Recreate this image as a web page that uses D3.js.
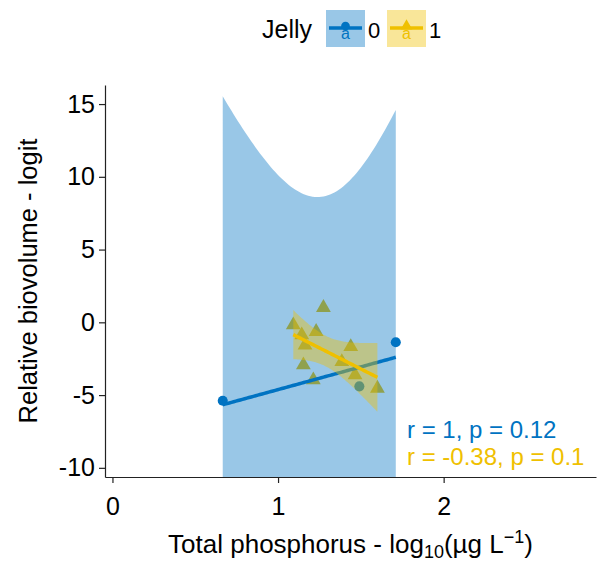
<!DOCTYPE html>
<html lang="en">
<head>
    <meta charset="UTF-8">
    <title>Relative biovolume vs total phosphorus</title>
    <script src="https://d3js.org/d3.v7.min.js"></script>
    <style>
        body { margin: 0; background: white; }
        text { font-family: 'Liberation Sans', Arial, sans-serif; fill: black; }
        .axis path, .axis line { stroke: #222; stroke-width: 1.2; }
        .axis text { font-size: 25px; font-family: 'Liberation Sans', Arial, sans-serif; fill: black; }
    </style>
</head>
<body>
<script>

    const width = 598;
    const height = 569;

    // Jelly = 0
    const tp0 = [0.666, 1.491, 1.711];
    const bv0 = [-5.39, -4.40, -1.37];
    // Jelly = 1
    const tp1 = [1.274, 1.092, 1.230, 1.143, 1.163, 1.439, 1.385, 1.153, 1.465, 1.213, 1.600];
    const bv1 = [1.01, -0.18, -0.64, -0.87, -1.57, -1.68, -2.71, -2.93, -3.62, -3.97, -4.54];

    const groups = ['0', '1'];
    const corrLabels = ['r = 1, p = 0.12', 'r = -0.38, p = 0.1'];
    const xTicks = [0, 1, 2];
    const yTicks = [-10, -5, 0, 5, 10, 15];

    const colors = ['#0073C2', '#EFC000'];

    const margin = {top: 85, right: 2, bottom: 92, left: 105};

    const x = d3.scaleLinear().domain([-0.045, 2.92]).range([margin.left, width - margin.right]);
    const y = d3.scaleLinear().domain([-10.63, 16.31]).range([height - margin.bottom, margin.top]);

    const svg = d3.select("body").append("svg").attr("width", width).attr("height", height);

    svg.append("clipPath").attr("id", "panel")
        .append("rect")
        .attr("x", margin.left).attr("y", margin.top)
        .attr("width", width - margin.left - margin.right)
        .attr("height", height - margin.top - margin.bottom);

    const series = [
        {key: groups[0], xs: tp0, ys: bv0, color: colors[0], shape: d3.symbolCircle},
        {key: groups[1], xs: tp1, ys: bv1, color: colors[1], shape: d3.symbolTriangle}
    ];

    // --- t quantile for the confidence band (numeric) ---
    function lgamma(z) {
        const g = 7, c = [0.99999999999980993, 676.5203681218851, -1259.1392167224028,
            771.32342877765313, -176.61502916214059, 12.507343278686905,
            -0.13857109526572012, 9.9843695780195716e-6, 1.5056327351493116e-7];
        z -= 1;
        let a = c[0];
        const t = z + g + 0.5;
        for (let i = 1; i < 9; i++) a += c[i] / (z + i);
        return 0.5 * Math.log(2 * Math.PI) + (z + 0.5) * Math.log(t) - t + Math.log(a);
    }
    function tcdf(t, nu) {
        const k = Math.exp(lgamma((nu + 1) / 2) - lgamma(nu / 2)) / Math.sqrt(nu * Math.PI);
        const f = u => k * Math.pow(1 + u * u / nu, -(nu + 1) / 2);
        const n = 2000, h = t / n;
        let s = f(0) + f(t);
        for (let i = 1; i < n; i++) s += f(i * h) * (i % 2 ? 4 : 2);
        return 0.5 + s * h / 3;
    }
    function tquant(p, nu) {
        let lo = 0, hi = 100;
        for (let i = 0; i < 60; i++) {
            const mid = (lo + hi) / 2;
            if (tcdf(mid, nu) < p) lo = mid; else hi = mid;
        }
        return (lo + hi) / 2;
    }

    function linfit(xs, ys) {
        const n = xs.length;
        const mx = d3.mean(xs), my = d3.mean(ys);
        let sxx = 0, sxy = 0;
        xs.forEach((v, i) => { sxx += (v - mx) ** 2; sxy += (v - mx) * (ys[i] - my); });
        const b = sxy / sxx, a = my - b * mx;
        let sse = 0;
        xs.forEach((v, i) => { sse += (ys[i] - a - b * v) ** 2; });
        const s = Math.sqrt(sse / (n - 2));
        const tq = tquant(0.975, n - 2);
        const [x0, x1] = d3.extent(xs);
        return d3.range(80).map(i => {
            const xv = x0 + (x1 - x0) * i / 79;
            const fit = a + b * xv;
            const se = s * Math.sqrt(1 / n + (xv - mx) ** 2 / sxx);
            return {x: xv, y: fit, lo: fit - tq * se, hi: fit + tq * se};
        });
    }

    const plot = svg.append("g").attr("clip-path", "url(#panel)");

    // points first, smooth layers on top
    series.forEach(s => {
        plot.selectAll(null)
            .data(s.xs.map((v, i) => [v, s.ys[i]]))
            .enter().append("path")
            .attr("d", d3.symbol().type(s.shape).size(s.shape === d3.symbolCircle ? 80 : 95))
            .attr("transform", d => `translate(${x(d[0])},${y(d[1])})`)
            .style("fill", s.color);
    });

    const area = d3.area().x(d => x(d.x)).y0(d => y(d.lo)).y1(d => y(d.hi));
    const line = d3.line().x(d => x(d.x)).y(d => y(d.y));

    series.forEach(s => {
        const fit = linfit(s.xs, s.ys);
        plot.append("path").attr("d", area(fit))
            .style("fill", s.color).style("opacity", 0.4);
        plot.append("path").attr("d", line(fit))
            .style("fill", "none").style("stroke", s.color).style("stroke-width", 3.5);
    });

    // correlation labels
    svg.selectAll("text.corr")
        .data(corrLabels)
        .enter().append("text").attr("class", "corr")
        .attr("x", 407)
        .attr("y", (d, i) => 438 + i * 27)
        .style("font-size", "24px")
        .style("fill", (d, i) => colors[i])
        .text(d => d);

    // axes
    svg.append("g").attr("class", "axis")
        .attr("transform", `translate(0,${height - margin.bottom})`)
        .call(d3.axisBottom(x).tickValues(xTicks).tickSize(6).tickPadding(14).tickSizeOuter(0).tickFormat(d => String(d)));

    svg.append("g").attr("class", "axis")
        .attr("transform", `translate(${margin.left},0)`)
        .call(d3.axisLeft(y).tickValues(yTicks).tickSize(6).tickPadding(4).tickSizeOuter(0).tickFormat(d => String(d)));

    // axis titles
    const xt = svg.append("text")
        .attr("x", (margin.left + width - margin.right) / 2)
        .attr("y", 553)
        .attr("text-anchor", "middle")
        .style("font-size", "26px");
    xt.append("tspan").text("Total phosphorus - log");
    xt.append("tspan").attr("dy", 5).style("font-size", "18px").text("10");
    xt.append("tspan").attr("dy", -5).text("(µg L");
    xt.append("tspan").attr("dy", -10).style("font-size", "18px").text("\u22121");
    xt.append("tspan").attr("dy", 10).text(")");

    svg.append("text")
        .attr("transform", `translate(37,${(margin.top + height - margin.bottom) / 2}) rotate(-90)`)
        .attr("text-anchor", "middle")
        .style("font-size", "25.5px")
        .text("Relative biovolume - logit");

    // legend
    const legend = svg.append("g");
    legend.append("text").attr("x", 262).attr("y", 38).style("font-size", "25px").text("Jelly");

    const keyX = [326, 387];
    series.forEach((s, i) => {
        const g = legend.append("g").attr("transform", `translate(${keyX[i]},10)`);
        g.append("rect").attr("width", 39).attr("height", 37)
            .style("fill", s.color).style("opacity", 0.4);
        g.append("line").attr("x1", 3).attr("x2", 36).attr("y1", 18).attr("y2", 18)
            .style("stroke", s.color).style("stroke-width", 3.5);
        g.append("path").attr("d", d3.symbol().type(s.shape).size(60))
            .attr("transform", "translate(19.5,16)").style("fill", s.color);
        g.append("text").attr("x", 19.5).attr("y", 29).attr("text-anchor", "middle")
            .style("font-size", "16px").style("fill", s.color).text("a");
        legend.append("text").attr("x", keyX[i] + 42).attr("y", 38)
            .style("font-size", "22px").text(s.key);
    });

</script>
</body>
</html>
